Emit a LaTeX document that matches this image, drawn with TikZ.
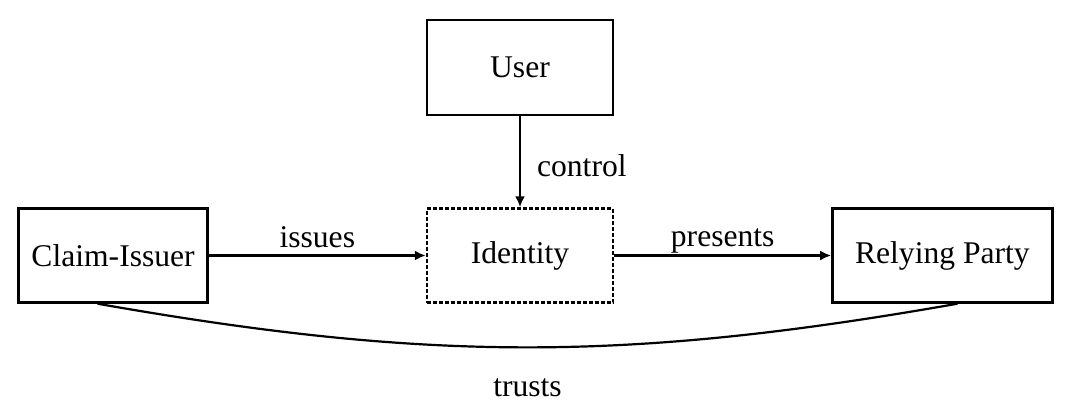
\documentclass[tikz,border=0pt]{standalone}
\usepackage{fontspec}
\setmainfont{Liberation Serif}
\usetikzlibrary{arrows.meta, positioning}

\begin{document}
\begin{tikzpicture}[
        box/.style={rectangle, draw, line width=1.2pt, minimum width=93pt, minimum height=47pt, align=center, font=\fontsize{15.8}{18}\selectfont},
        arr/.style={-{Latex[length=5.5pt, width=5pt]}, line width=1.1pt},
        lbl/.style={font=\fontsize{15.8}{18}\selectfont, inner sep=0pt},
        node distance=108.5pt
        ]
        \useasboundingbox (0,0) rectangle (535.5pt,-209.5pt);
        \node[box, dash pattern=on 2pt off 1pt] (identity) at (260pt,-127.75pt) {Identity};
        \node[box, minimum width=94.5pt, left=of identity]  (issuer)   {Claim-Issuer};
        \node[box, minimum width=110pt, right=of identity]  (relying)  {Relying Party};
        \node[box, minimum height=47.5pt, above=45.5pt of identity]  (user)     {User};
        \draw[arr] (issuer) -- node[lbl, anchor=base, yshift=4pt] {issues} (identity);
        \draw[arr] (identity) -- node[lbl, anchor=base, yshift=4.5pt] {presents} (relying);
        \draw[arr] (user) -- node[lbl, anchor=base west, xshift=8pt, yshift=-7.25pt] {control} (identity);
        \draw[line width=1.1pt] ([xshift=-7.75pt]issuer.south) to[bend right=10] node[lbl, anchor=base, yshift=-24.5pt] {trusts} ([xshift=7.5pt]relying.south);
    \end{tikzpicture}
\end{document}
